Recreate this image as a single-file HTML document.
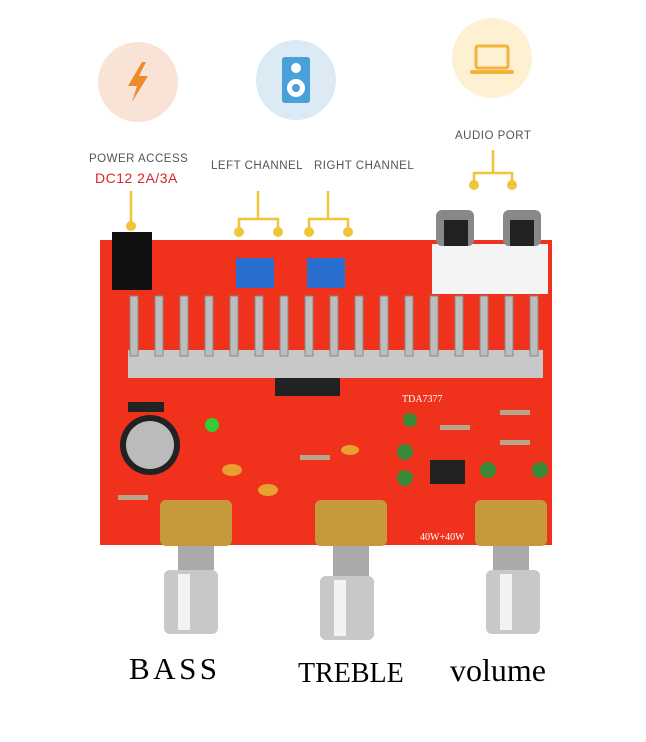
<!DOCTYPE html>
<html><head><style>
html,body{margin:0;padding:0;background:#fff;}
svg{display:block}
.t{font-family:"Liberation Sans",sans-serif;fill:#555;font-size:11.5px;letter-spacing:0.5px}
.s{font-family:"Liberation Serif",serif;fill:#000}
</style></head><body>
<svg width="646" height="742" viewBox="0 0 646 742" xmlns="http://www.w3.org/2000/svg">
<rect width="646" height="742" fill="#fff"/>
<circle cx="138" cy="82" r="40" fill="#f9e3d6"/>
<polygon points="142,62 128,86 137,86 132,102 148,76 139,76 146,62" fill="#ef8a2c"/>
<circle cx="296" cy="80" r="40" fill="#dbeaf4"/>
<rect x="282" y="57" width="28" height="46" rx="3" fill="#4aa0d8"/>
<circle cx="296" cy="68" r="5" fill="#fff"/><circle cx="296" cy="88" r="9" fill="#fff"/><circle cx="296" cy="88" r="4" fill="#4aa0d8"/>
<circle cx="492" cy="58" r="40" fill="#fdf1d2"/>
<rect x="476" y="46" width="32" height="22" rx="2" fill="none" stroke="#f2b33a" stroke-width="3"/>
<rect x="470" y="70" width="44" height="4" rx="2" fill="#f2b33a"/>
<text class="t" x="89" y="162">POWER ACCESS</text>
<text x="95" y="183" font-family="Liberation Sans,sans-serif" font-size="14" fill="#d8262a" letter-spacing="0.5">DC12 2A/3A</text>
<text class="t" x="211" y="169">LEFT CHANNEL</text>
<text class="t" x="314" y="169">RIGHT CHANNEL</text>
<text class="t" x="455" y="139">AUDIO PORT</text>
<g stroke="#f0c53a" stroke-width="2.5" fill="none">
<path d="M131 191 V226"/>
<path d="M258 191 V219 M239 232 V219 H278 V232"/>
<path d="M328 191 V219 M309 232 V219 H348 V232"/>
<path d="M493 150 V173 M474 185 V173 H512 V185"/>
</g>
<g fill="#f0c53a">
<circle cx="131" cy="226" r="5"/><circle cx="239" cy="232" r="5"/><circle cx="278" cy="232" r="5"/>
<circle cx="309" cy="232" r="5"/><circle cx="348" cy="232" r="5"/><circle cx="474" cy="185" r="5"/><circle cx="512" cy="185" r="5"/>
</g>
<rect x="100" y="240" width="452" height="305" fill="#f0321c"/>
<rect x="112" y="232" width="40" height="58" fill="#111"/>
<rect x="236" y="258" width="38" height="30" fill="#2a6ed0"/>
<rect x="307" y="258" width="38" height="30" fill="#2a6ed0"/>
<rect x="432" y="244" width="116" height="50" fill="#f4f4f4"/>
<rect x="436" y="210" width="38" height="36" rx="6" fill="#888"/>
<rect x="503" y="210" width="38" height="36" rx="6" fill="#888"/>
<rect x="444" y="220" width="24" height="26" fill="#222"/><rect x="510" y="220" width="24" height="26" fill="#222"/>
<rect x="128" y="350" width="415" height="28" fill="#c8c8c8"/>
<g fill="#bdbdbd" stroke="#888" stroke-width="1">
<rect x="130" y="296" width="8" height="60"/><rect x="155" y="296" width="8" height="60"/><rect x="180" y="296" width="8" height="60"/>
<rect x="205" y="296" width="8" height="60"/><rect x="230" y="296" width="8" height="60"/><rect x="255" y="296" width="8" height="60"/>
<rect x="280" y="296" width="8" height="60"/><rect x="305" y="296" width="8" height="60"/><rect x="330" y="296" width="8" height="60"/>
<rect x="355" y="296" width="8" height="60"/><rect x="380" y="296" width="8" height="60"/><rect x="405" y="296" width="8" height="60"/>
<rect x="430" y="296" width="8" height="60"/><rect x="455" y="296" width="8" height="60"/><rect x="480" y="296" width="8" height="60"/>
<rect x="505" y="296" width="8" height="60"/><rect x="530" y="296" width="8" height="60"/>
</g>
<rect x="275" y="378" width="65" height="18" fill="#222"/>
<rect x="128" y="402" width="36" height="10" fill="#222"/>
<circle cx="150" cy="445" r="30" fill="#222"/><circle cx="150" cy="445" r="24" fill="#bbb"/>
<rect x="430" y="460" width="35" height="24" fill="#222"/>
<circle cx="212" cy="425" r="7" fill="#3c3"/>
<g fill="#3a8a3a"><circle cx="405" cy="452" r="8"/><circle cx="405" cy="478" r="8"/><circle cx="488" cy="470" r="8"/><circle cx="540" cy="470" r="8"/><circle cx="410" cy="420" r="7"/></g>
<g fill="#e8a030"><ellipse cx="268" cy="490" rx="10" ry="6"/><ellipse cx="232" cy="470" rx="10" ry="6"/><ellipse cx="350" cy="450" rx="9" ry="5"/></g>
<g fill="#b8a68a"><rect x="440" y="425" width="30" height="5"/><rect x="500" y="410" width="30" height="5"/><rect x="500" y="440" width="30" height="5"/><rect x="300" y="455" width="30" height="5"/><rect x="118" y="495" width="30" height="5"/></g>
<text x="420" y="540" font-family="Liberation Serif,serif" font-size="10" fill="#fff">40W+40W</text>
<text x="402" y="402" font-family="Liberation Serif,serif" font-size="10" fill="#fff">TDA7377</text>
<rect x="160" y="500" width="72" height="46" rx="6" fill="#c59a3a"/>
<rect x="315" y="500" width="72" height="46" rx="6" fill="#c59a3a"/>
<rect x="475" y="500" width="72" height="46" rx="6" fill="#c59a3a"/>
<rect x="178" y="546" width="36" height="24" fill="#aaa"/>
<rect x="333" y="546" width="36" height="30" fill="#aaa"/>
<rect x="493" y="546" width="36" height="24" fill="#aaa"/>
<rect x="164" y="570" width="54" height="64" rx="6" fill="#c8c8c8"/><rect x="178" y="574" width="12" height="56" fill="#f2f2f2"/>
<rect x="320" y="576" width="54" height="64" rx="6" fill="#c8c8c8"/><rect x="334" y="580" width="12" height="56" fill="#f2f2f2"/>
<rect x="486" y="570" width="54" height="64" rx="6" fill="#c8c8c8"/><rect x="500" y="574" width="12" height="56" fill="#f2f2f2"/>
<text class="s" x="129" y="679" font-size="31" letter-spacing="3.5">BASS</text>
<text class="s" x="298" y="682" font-size="28">TREBLE</text>
<text class="s" x="450" y="681" font-size="32">volume</text>
</svg>
</body></html>
